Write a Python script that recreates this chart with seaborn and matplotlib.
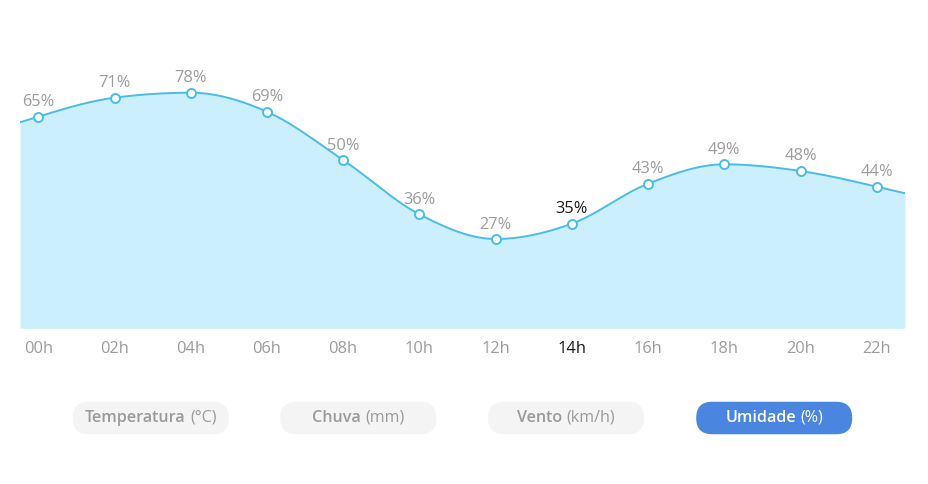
import numpy as np
import pandas as pd
import matplotlib.pyplot as plt
import seaborn as sns
from matplotlib.patches import FancyBboxPatch

# === Dados ===
horas = ['00h', '02h', '04h', '06h', '08h', '10h', '12h', '14h', '16h', '18h', '20h', '22h']
umidade = [65, 71, 78, 69, 50, 36, 27, 35, 43, 49, 48, 44]
# altura da curva (mesma unidade do eixo y)
nivel = [211.6, 230.6, 235.6, 216.6, 168.3, 114.0, 89.3, 104.6, 144.6, 164.0, 157.3, 141.6]
hora_ativa = '14h'
botoes = [('Temperatura', '(°C)'), ('Chuva', '(mm)'), ('Vento', '(km/h)'), ('Umidade', '(%)')]
botao_ativo = 'Umidade'

AZUL = '#4bbbe9'
PREENCHIMENTO = '#cbeffd'
CINZA = '#9c9c9c'


# curva monotona (estilo d3 monotoneX)
def monotona(x, y, xs):
    x = np.asarray(x, float)
    y = np.asarray(y, float)
    n = len(x)
    h = np.diff(x)
    s = np.diff(y) / h
    t = np.zeros(n)
    for i in range(1, n - 1):
        p = (s[i - 1] * h[i] + s[i] * h[i - 1]) / (h[i - 1] + h[i])
        t[i] = (np.sign(s[i - 1]) + np.sign(s[i])) * min(abs(s[i - 1]), abs(s[i]), 0.5 * abs(p))
    t[0] = (3 * s[0] - t[1]) / 2
    t[-1] = (3 * s[-1] - t[-2]) / 2
    out = []
    for xv in xs:
        k = int(np.clip(np.searchsorted(x, xv) - 1, 0, n - 2))
        u = (xv - x[k]) / h[k]
        d = y[k + 1] - y[k]
        m0, m1 = t[k] * h[k], t[k + 1] * h[k]
        out.append(y[k] + m0 * u + (3 * d - 2 * m0 - m1) * u ** 2 + (m0 + m1 - 2 * d) * u ** 3)
    return np.array(out)


sns.set_style('white')
plt.rcParams['font.family'] = ['Open Sans', 'DejaVu Sans']

W, H = 929, 484
fig = plt.figure(figsize=(W / 100, H / 100), dpi=100)

base = 328.3
topo = 40
ax = fig.add_axes([20 / W, 1 - base / H, 885 / W, (base - topo) / H])

idx = np.arange(len(horas))
x0, x1 = -0.240, 11.371
xs = np.linspace(x0, x1, 600)
ys = monotona(idx, nivel, xs)

ax.fill_between(xs, 0, ys, color=PREENCHIMENTO, lw=0)
sns.lineplot(x=xs, y=ys, ax=ax, color=AZUL, lw=1.4)
df = pd.DataFrame({'idx': idx, 'nivel': nivel})
sns.scatterplot(data=df, x='idx', y='nivel', ax=ax, s=42, color='white',
                edgecolor=AZUL, linewidth=1.4, zorder=5)

for i, (v, n) in enumerate(zip(umidade, nivel)):
    cor = '#1a1a1a' if horas[i] == hora_ativa else CINZA
    ax.text(i, n + 6.5, f'{v}%', ha='center', va='bottom', fontsize=11.8, color=cor)

ax.set_xlim(x0, x1)
ax.set_ylim(0, base - topo)
ax.set_xticks(idx)
ax.set_xticklabels(horas, fontsize=11.8)
for lab, hr in zip(ax.get_xticklabels(), horas):
    lab.set_color('#1a1a1a' if hr == hora_ativa else CINZA)
ax.tick_params(axis='x', length=0, pad=9)
ax.set_yticks([])
ax.set_xlabel('')
ax.set_ylabel('')
sns.despine(ax=ax, left=True, bottom=True)

# === Botoes ===
bx = fig.add_axes([0, 0, 1, 1])
bx.set_xlim(0, W)
bx.set_ylim(H, 0)
bx.axis('off')

centros = [150.8, 358.3, 566.0, 774.2]
larg, alt, cy = 156, 32.5, 418
fig.canvas.draw()
r = fig.canvas.get_renderer()
for (forte, fraco), cx in zip(botoes, centros):
    ativo = forte == botao_ativo
    fundo = '#4a86e0' if ativo else '#f4f4f4'
    cor_txt = 'white' if ativo else '#9a9a9a'
    bx.add_patch(FancyBboxPatch((cx - larg / 2, cy - alt / 2), larg, alt,
                                boxstyle='round,pad=0,rounding_size=16',
                                fc=fundo, ec='none'))
    t1 = bx.text(0, cy, forte, fontsize=11.6, fontweight='semibold', color=cor_txt,
                 ha='left', va='center')
    t2 = bx.text(0, cy, fraco, fontsize=11.6, color=cor_txt, ha='left', va='center')
    w1 = t1.get_window_extent(r).width
    w2 = t2.get_window_extent(r).width
    gap = 4.5
    ini = cx - (w1 + gap + w2) / 2
    t1.set_x(ini)
    t2.set_x(ini + w1 + gap)

fig.savefig('out.png', dpi=100)
